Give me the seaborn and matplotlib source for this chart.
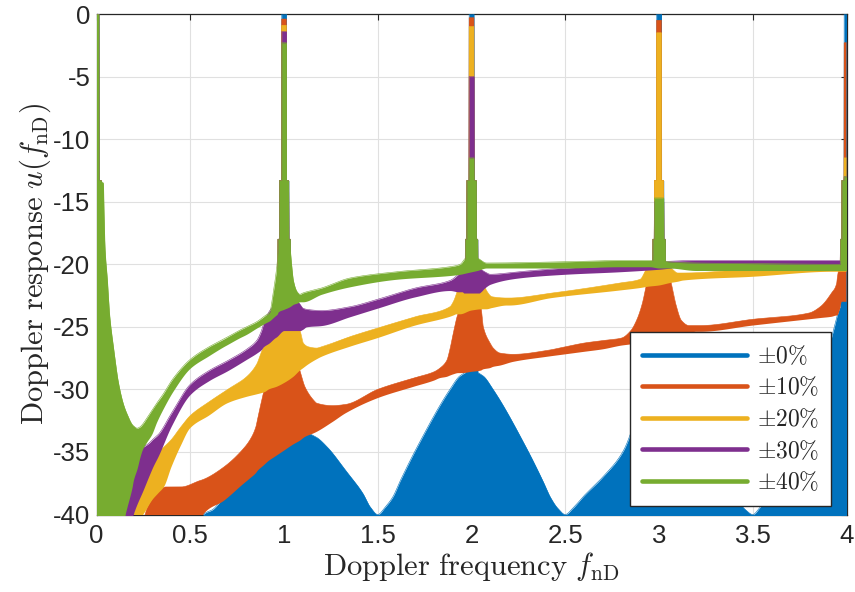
import numpy as np
import matplotlib
matplotlib.use("Agg")
import matplotlib.pyplot as plt
import seaborn as sns
from matplotlib.lines import Line2D

sns.set_theme(style="white")
plt.rcParams['font.family'] = ['Liberation Sans', 'DejaVu Sans']
plt.rcParams['mathtext.fontset'] = 'cm'
plt.rcParams['axes.unicode_minus'] = False

# ---------------- data ----------------
LABELS = [r"$\pm0\%$", r"$\pm10\%$", r"$\pm20\%$", r"$\pm30\%$", r"$\pm40\%$"]
COLORS = ["#0072BD", "#D95319", "#EDB120", "#7E2F8E", "#77AC30"]
X_TICKS = [0, 0.5, 1, 1.5, 2, 2.5, 3, 3.5, 4]
X_TICK_LABELS = ["0", "0.5", "1", "1.5", "2", "2.5", "3", "3.5", "4"]
Y_TICKS = [-40, -35, -30, -25, -20, -15, -10, -5, 0]
Y_TICK_LABELS = ["-40", "-35", "-30", "-25", "-20", "-15", "-10", "-5", "0"]

SPIKE_AT = [0, 1, 2, 3, 4]
# spike top (dB) of each series at each integer frequency
SPIKE_TOP_0 = [0.0, 0.0, 0.0, 0.0, 0.0]
SPIKE_TOP_10 = [0.0, -0.4, -0.3, -0.5, -2.3]
SPIKE_TOP_20 = [0.0, -0.9, -1.0, -1.5, -11.5]
SPIKE_TOP_30 = [0.0, -1.4, -5.0, -15.0, -13.0]
SPIKE_TOP_40 = [0.0, -2.3, -11.5, -14.7, -13.0]
SPIKE_HALF_WIDTH = [0.013, 0.025, 0.033]
SPIKE_STEP_DB = [-13.3, -18.0]

# envelope of the (densely oscillating) response: upper / lower edge
BLUE_X = [0.0, 0.55, 0.57, 0.62, 0.68, 0.85, 0.95, 1.0, 1.1, 1.17, 1.23, 1.33, 1.42, 1.46, 1.5,
          1.54, 1.58, 1.62, 1.71, 1.885, 1.94, 2.0, 2.06, 2.115, 2.29, 2.38, 2.42, 2.46, 2.5,
          2.54, 2.6, 2.7, 2.81, 2.9, 2.95, 3.0, 3.05, 3.1, 3.2, 3.3, 3.38, 3.417, 3.46, 3.5,
          3.54, 3.6, 3.65, 3.8, 3.9, 3.93, 3.97, 4.0]
BLUE_HI = [-41, -41, -40, -39.6, -38.6, -36.2, -34.5, -33.8, -33.4, -33.8, -34.6, -36.5, -38.3, -39.4, -40,
           -39.4, -38.6, -37.3, -34.6, -30.0, -28.9, -28.5, -28.9, -30.0, -34.6, -37.3, -38.6, -39.5, -40,
           -39.5, -38.5, -37.0, -34.9, -31.0, -28.0, -27.0, -28.0, -31.0, -35.0, -37.3, -38.4, -38.9, -39.6, -40,
           -39.4, -38.3, -37.0, -32.0, -27.0, -25.3, -23.3, -23.0]
BLUE_LO = [-45] * len(BLUE_X)

ORANGE_X = [0.2, 0.24, 0.27, 0.3, 0.34, 0.37, 0.45, 0.55, 0.57, 0.68, 0.78, 0.82, 0.85,
            0.86, 0.89, 0.92, 0.95, 0.98, 1.0, 1.05, 1.085, 1.112, 1.16, 1.174, 1.26,
            1.33, 1.5, 1.69, 1.8, 1.832, 1.868, 1.885, 1.903, 1.93, 1.95, 2.0, 2.05,
            2.063, 2.099, 2.116, 2.152, 2.223, 2.4, 2.5, 2.6, 2.7, 2.8, 2.85, 2.88,
            2.91, 2.935, 2.95, 3.0, 3.05, 3.065, 3.09, 3.12, 3.16, 3.2, 3.22, 3.5,
            3.8, 3.86, 3.92, 3.948, 3.95, 3.965, 3.975, 4.0]
ORANGE_HI = [-42, -41, -39.5, -38.7, -38.0, -37.8, -37.8, -37.3, -37.2, -36.2, -34.8, -34.0, -33.0,
             -32.3, -30.3, -28.5, -27.0, -26.3, -26.0, -26.8, -28.5, -29.8, -30.9, -31.1, -31.3,
             -31.2, -30.0, -29.1, -28.6, -28.3, -27.7, -26.8, -25.5, -23.9, -23.5, -23.5, -23.5,
             -25.0, -26.3, -26.7, -27.1, -27.2, -26.9, -26.6, -26.3, -26.1, -25.9, -25.3, -24.5,
             -23.2, -21.5, -20.6, -20.4, -20.6, -21.5, -23.2, -24.5, -24.9, -24.9, -24.9, -24.4,
             -23.9, -23.4, -22.3, -21.5, -21.2, -19.9, -19.0, -18.5]
ORANGE_LO = [-45, -45, -45, -45, -44.5, -44, -43, -41, -40, -38.9, -37.6, -37.1, -36.7,
             -36.5, -36.1, -35.7, -35.4, -35.1, -34.9, -34.4, -34.1, -33.8, -33.5, -33.4, -32.6,
             -31.9, -30.7, -29.8, -29.3, -29.1, -29.0, -28.9, -28.8, -28.7, -28.7, -28.6, -28.5,
             -28.4, -28.3, -28.2, -28.1, -27.8, -27.4, -27.2, -27.0, -26.8, -26.5, -26.4, -26.3,
             -26.2, -26.1, -26.1, -26.0, -25.9, -25.8, -25.7, -25.7, -25.5, -25.4, -25.4, -24.9,
             -24.4, -24.3, -24.2, -24.1, -24.1, -23.6, -23.0, -23.0]

YELLOW_X = [0.15, 0.19, 0.196, 0.22, 0.25, 0.3, 0.33, 0.36, 0.4, 0.45, 0.5, 0.6, 0.7, 0.8,
            0.854, 0.88, 0.9, 0.92, 0.96, 1.0, 1.05, 1.085, 1.103, 1.13, 1.174, 1.2, 1.35,
            1.5, 1.7, 1.885, 1.903, 1.921, 1.94, 2.0, 2.06, 2.08, 2.11, 2.19, 2.2, 2.43,
            2.79, 2.9, 2.94, 3.0, 3.06, 3.1, 3.13, 3.5, 3.93, 4.0]
YELLOW_HI = [-41, -40.5, -40.2, -38.0, -37.0, -35.5, -35.0, -34.6, -34.0, -33.0, -32.1, -31.0, -30.0, -29.0,
             -28.0, -27.0, -26.3, -25.6, -24.6, -24.0, -24.8, -25.3, -26.3, -26.6, -26.7, -26.6, -25.8,
             -25.1, -24.2, -23.4, -23.0, -22.3, -21.3, -21.2, -21.3, -22.1, -22.6, -22.7, -22.7, -22.3,
             -21.5, -21.2, -20.3, -20.2, -20.3, -20.7, -20.7, -20.4, -20.2, -20.0]
YELLOW_LO = [-45, -41.5, -41, -40.6, -40, -38.8, -38.3, -37.8, -36.2, -34.5, -33.1, -32.1, -31.1, -30.6,
             -30.4, -30.3, -30.2, -30.0, -29.8, -29.5, -29.0, -28.5, -28.3, -28.0, -27.6, -27.4, -26.6,
             -25.9, -24.9, -24.2, -24.1, -24.0, -24.0, -23.7, -23.6, -23.6, -23.5, -23.3, -23.3, -22.7,
             -22.1, -21.9, -21.8, -21.7, -21.5, -21.4, -21.3, -21.0, -20.6, -20.6]

PURPLE_X = [0.0, 0.12, 0.153, 0.196, 0.2, 0.25, 0.28, 0.3, 0.33, 0.4, 0.5, 0.6, 0.7, 0.8,
            0.854, 0.88, 0.89, 0.92, 0.95, 0.96, 1.0, 1.04, 1.08, 1.085, 1.1, 1.12, 1.2,
            1.35, 1.5, 1.7, 1.885, 1.93, 1.95, 1.96, 2.0, 2.04, 2.05, 2.07, 2.1, 2.25, 2.5,
            2.79, 3.0, 3.2, 4.0]
PURPLE_HI = [-30, -34.5, -34.8, -35.0, -35.0, -34.6, -34.3, -34.0, -33.6, -31.9, -29.6, -28.5, -27.7, -26.8,
             -26.1, -25.3, -24.8, -23.8, -23.2, -23.0, -22.5, -22.8, -23.1, -23.2, -23.5, -23.6, -23.7,
             -23.4, -22.8, -21.9, -21.3, -20.8, -20.5, -20.3, -20.2, -20.3, -20.4, -20.6, -20.8, -20.6, -20.3,
             -20.1, -19.8, -19.7, -19.7]
PURPLE_LO = [-45, -42, -41, -40, -39.8, -38.0, -36.9, -36.2, -35.3, -32.9, -30.4, -29.3, -28.5, -27.6,
             -27.1, -26.8, -26.6, -26.3, -25.9, -25.8, -25.3, -25.3, -25.3, -25.3, -25.2, -25.0, -24.9,
             -24.2, -23.5, -22.6, -22.1, -22.2, -22.2, -22.3, -22.3, -22.3, -22.2, -21.9, -21.6, -21.1, -20.8,
             -20.6, -20.4, -20.1, -20.1]

GREEN_X = [0.0, 0.036, 0.04, 0.045, 0.058, 0.069, 0.09, 0.115, 0.14, 0.153, 0.161, 0.19, 0.196,
           0.217, 0.232, 0.245, 0.268, 0.294, 0.321, 0.35, 0.41, 0.5, 0.6, 0.676, 0.7, 0.76, 0.8,
           0.854, 0.9, 0.925, 0.94, 0.955, 0.963, 0.97, 1.0, 1.03, 1.04, 1.05, 1.07, 1.085, 1.1,
           1.2, 1.352, 1.6, 1.885, 1.94, 1.97, 2.0, 2.03, 2.08, 2.5, 2.79, 2.95, 3.0, 3.05, 3.2,
           3.5, 3.9, 3.97, 4.0]
GREEN_HI = [-13.3, -13.5, -15.9, -18.6, -21.3, -23.9, -26.6, -29.3, -31.0, -31.6, -31.9, -32.8, -32.9,
            -33.1, -33.0, -32.8, -32.3, -31.7, -31.1, -30.5, -29.1, -27.6, -26.6, -26.0, -25.8, -25.3, -25.0,
            -24.6, -24.1, -23.8, -22.5, -21.0, -20.0, -18.5, -18.0, -18.5, -20.0, -21.3, -22.2, -22.4, -22.3,
            -21.9, -21.1, -20.6, -20.2, -20.0, -19.5, -19.4, -19.5, -19.9, -19.8, -19.7, -19.7, -19.6, -19.8, -19.9,
            -19.95, -20.0, -20.0, -20.0]
GREEN_LO = [-45, -45, -45, -45, -45, -45, -44, -43, -42, -40, -39.5, -37.8, -37.3,
            -36.3, -35.4, -34.8, -34.2, -33.6, -32.6, -31.7, -30.1, -28.3, -27.3, -26.6, -26.4, -25.9, -25.6,
            -25.1, -24.7, -24.5, -24.3, -24.1, -24.0, -23.8, -23.6, -23.4, -23.3, -23.2, -23.1, -23.0, -23.0,
            -22.4, -21.8, -21.2, -20.9, -20.8, -20.7, -20.6, -20.5, -20.3, -20.3, -20.2, -20.2, -20.3, -20.3, -20.5,
            -20.5, -20.5, -20.5, -20.5]

SERIES = [
    (BLUE_X, BLUE_HI, BLUE_LO, SPIKE_TOP_0),
    (ORANGE_X, ORANGE_HI, ORANGE_LO, SPIKE_TOP_10),
    (YELLOW_X, YELLOW_HI, YELLOW_LO, SPIKE_TOP_20),
    (PURPLE_X, PURPLE_HI, PURPLE_LO, SPIKE_TOP_30),
    (GREEN_X, GREEN_HI, GREEN_LO, SPIKE_TOP_40),
]


def pchip(xq, x, y):
    """Shape-preserving (monotone) cubic through the read-off envelope points."""
    x = np.asarray(x, float)
    y = np.asarray(y, float)
    h = np.diff(x)
    delta = np.diff(y) / h
    d = np.zeros_like(y)
    for k in range(1, len(x) - 1):
        if delta[k - 1] * delta[k] > 0:
            w1 = 2 * h[k] + h[k - 1]
            w2 = h[k] + 2 * h[k - 1]
            d[k] = (w1 + w2) / (w1 / delta[k - 1] + w2 / delta[k])
    d[0] = delta[0]
    d[-1] = delta[-1]
    k = np.clip(np.searchsorted(x, xq) - 1, 0, len(x) - 2)
    t = (xq - x[k]) / h[k]
    h00 = (1 + 2 * t) * (1 - t) ** 2
    h10 = t * (1 - t) ** 2
    h01 = t ** 2 * (3 - 2 * t)
    h11 = t ** 2 * (t - 1)
    return h00 * y[k] + h10 * h[k] * d[k] + h01 * y[k + 1] + h11 * h[k] * d[k + 1]


# ---------------- figure ----------------
W, H = 855, 592
fig = plt.figure(figsize=(W / 100, H / 100), dpi=100)
ax = fig.add_axes([96.5 / W, 1 - 514.5 / H, 750 / W, 500.5 / H])

grid = np.linspace(0, 4, 8001)
for i, ((sx, shi, slo, tops), col) in enumerate(zip(SERIES, COLORS)):
    hi = pchip(grid, sx, shi)
    lo = pchip(grid, sx, slo)
    for n, top in zip(SPIKE_AT, tops):
        d = np.abs(grid - n)
        levels = [top] + [min(top, s) for s in SPIKE_STEP_DB]
        for hw, lv in zip(SPIKE_HALF_WIDTH, levels):
            hi = np.where(d <= hw, np.maximum(hi, lv), hi)
    z = 3 + i * 0.1
    ax.fill_between(grid, lo, hi, color=col, linewidth=0, zorder=z)
    sns.lineplot(x=grid, y=hi, color=col, lw=0.4, ax=ax, zorder=z,
                 estimator=None, sort=False, legend=False)

ax.set_xlim(0, 4)
ax.set_ylim(-40, 0)
ax.set_xticks(X_TICKS)
ax.set_xticklabels(X_TICK_LABELS)
ax.set_yticks(Y_TICKS)
ax.set_yticklabels(Y_TICK_LABELS)
ax.grid(True, color="#e0e0e0", lw=0.8)
ax.set_axisbelow(True)
for sp in ax.spines.values():
    sp.set_color("#262626")
    sp.set_linewidth(0.9)
    sp.set_zorder(2.5)
ax.tick_params(direction="in", length=4.5, width=0.8, colors="#262626",
               top=True, right=True, labelsize=18.5)
ax.tick_params(axis="x", pad=7)
ax.tick_params(axis="y", pad=4.5)

ax.set_xlabel(r"$\mathrm{Doppler\ frequency}\ f_{\mathrm{nD}}$", fontsize=22, color="#262626",
              labelpad=1)
ax.set_ylabel(r"$\mathrm{Doppler\ response}\ u(f_{\mathrm{nD}})$", fontsize=22, color="#262626",
              labelpad=0)

handles = [Line2D([0], [0], color=c, lw=3.3) for c in COLORS]
leg = ax.legend(handles, LABELS, loc="lower right", bbox_to_anchor=(0.9793, 0.017),
                borderaxespad=0, fontsize=17, handlelength=4.45, handletextpad=0.42,
                labelspacing=0.33, borderpad=0.5, fancybox=False, framealpha=1,
                edgecolor="#262626")
leg.get_frame().set_linewidth(1.0)
leg.set_zorder(10)

fig.savefig("out.png", dpi=100)
